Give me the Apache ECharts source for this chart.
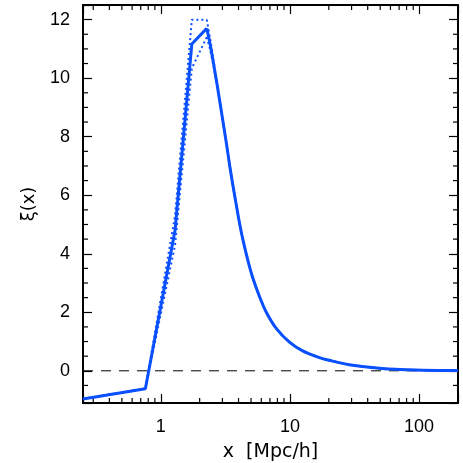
<!DOCTYPE html>
<html>
<head>
<meta charset="utf-8">
<script src="https://cdn.jsdelivr.net/npm/echarts@6/dist/echarts.min.js"></script>
<style>
  html, body { margin: 0; padding: 0; background: #fff; }
  #chart { width: 463px; height: 463px; }
</style>
</head>
<body>
<div id="chart"></div>
<script>
  // xi(x)
  const xVals = [0.25, 0.76, 1.29, 1.74, 2.27, 2.40, 2.55, 2.71, 2.87, 3.04, 3.23, 3.42, 3.63, 3.86, 4.09, 4.34, 4.74, 5.17, 5.83, 6.56, 7.83, 9.91, 12.55, 16.9, 20.1, 28.7, 51.5, 93.5, 200]
  const xiVals = [-0.96, -0.61, 4.8, 11.17, 11.7, 11.2, 10.55, 9.86, 9.18, 8.48, 7.74, 7.0, 6.3, 5.62, 5.0, 4.45, 3.75, 3.16, 2.52, 2.0, 1.45, 0.98, 0.68, 0.45, 0.36, 0.21, 0.08, 0.03, 0.01]
  // dotted bounds
  const xiUpper = [-0.96, -0.61, 5.3, 12.0, 12.0, 11.4, 10.65, 9.91, 9.21, 8.5, 7.75, 7.01, 6.3, 5.62, 5.0, 4.45, 3.75, 3.16, 2.52, 2.0, 1.45, 0.98, 0.68, 0.45, 0.36, 0.21, 0.08, 0.03, 0.01]
  const xiLower = [-0.96, -0.61, 4.3, 10.34, 11.4, 11.0, 10.45, 9.81, 9.15, 8.46, 7.73, 6.99, 6.3, 5.62, 5.0, 4.45, 3.75, 3.16, 2.52, 2.0, 1.45, 0.98, 0.68, 0.45, 0.36, 0.21, 0.08, 0.03, 0.01]
  const peakIdx = 4
  const xLabels = [1, 10, 100]
  const xMinor = [0.3, 0.4, 0.5, 0.6, 0.7, 0.8, 0.9, 2, 3, 4, 5, 6, 7, 8, 9, 20, 30, 40, 50, 60, 70, 80, 90]
  const yMinor = [-0.5, 0.5, 1, 1.5, 2.5, 3, 3.5, 4.5, 5, 5.5, 6.5, 7, 7.5, 8.5, 9, 9.5, 10.5, 11, 11.5]

  const blue = '#0a50ff'
  const font = 'Liberation Sans'
  const myChart = echarts.init(document.getElementById('chart'), null, { renderer: 'canvas' })

  const pairs = (ys) => xVals.map((x, i) => [x, ys[i]])

  // rising part straight, falling tail smoothed
  const curve = (ys, lineStyle) => {
    const all = pairs(ys)
    return [
      { type: 'line', data: all.slice(0, peakIdx + 1), symbol: 'none', lineStyle: lineStyle },
      { type: 'line', data: all.slice(peakIdx), symbol: 'none', smooth: 0.3, lineStyle: lineStyle }
    ]
  }

  // minor ticks, drawn inward on both opposite sides of the box
  const tickSeries = (vals, isX) => ({
    type: 'custom',
    silent: true,
    clip: false,
    data: vals.map(v => isX ? [v, 0] : [1, v]),
    renderItem: function (params, api) {
      const cs = params.coordSys
      const p = api.coord([api.value(0), api.value(1)])
      const len = 5
      const st = { stroke: '#000', lineWidth: 1.2 }
      let lines
      if (isX) {
        lines = [
          { x1: p[0], y1: cs.y + cs.height, x2: p[0], y2: cs.y + cs.height - len },
          { x1: p[0], y1: cs.y, x2: p[0], y2: cs.y + len }
        ]
      } else {
        lines = [
          { x1: cs.x, y1: p[1], x2: cs.x + len, y2: p[1] },
          { x1: cs.x + cs.width, y1: p[1], x2: cs.x + cs.width - len, y2: p[1] }
        ]
      }
      return {
        type: 'group',
        children: lines.map(s => ({ type: 'line', shape: s, style: st }))
      }
    }
  })

  const axisLine = () => ({ show: true, onZero: false, lineStyle: { color: '#000', width: 2 } })
  const axisTick = () => ({ show: true, inside: true, length: 9, lineStyle: { color: '#000', width: 1.2 } })

  const option = {
    animation: false,
    backgroundColor: '#fff',
    grid: { left: 83, right: 5, top: 5, bottom: 60, containLabel: false, outerBoundsMode: 'none' },
    xAxis: [{
      type: 'log',
      logBase: 10,
      min: 0.25,
      max: 200,
      position: 'bottom',
      name: 'x  [Mpc/h]',
      nameLocation: 'middle',
      nameGap: 40,
      nameTextStyle: { color: '#000', fontSize: 19, fontFamily: 'DejaVu Sans' },
      axisLine: axisLine(),
      axisTick: axisTick(),
      splitLine: { show: false },
      axisLabel: {
        color: '#000',
        fontSize: 18,
        fontFamily: font,
        margin: 15,
        formatter: v => xLabels.some(l => Math.abs(l - v) / l < 1e-6) ? String(Math.round(v)) : ''
      }
    }, {
      type: 'log',
      logBase: 10,
      min: 0.25,
      max: 200,
      position: 'top',
      axisLine: axisLine(),
      axisTick: axisTick(),
      splitLine: { show: false },
      axisLabel: { show: false }
    }],
    yAxis: [{
      type: 'value',
      min: -1.1,
      max: 12.5,
      splitNumber: 7,
      position: 'left',
      name: 'ξ(x)',
      nameLocation: 'middle',
      nameRotate: 90,
      nameGap: 45,
      nameTextStyle: { color: '#000', fontSize: 18, fontFamily: 'DejaVu Sans' },
      axisLine: axisLine(),
      axisTick: axisTick(),
      splitLine: { show: false },
      axisLabel: {
        color: '#000',
        fontSize: 18,
        fontFamily: font,
        margin: 13,
        formatter: v => (Math.abs(v - Math.round(v)) < 1e-6 && Math.round(v) % 2 === 0) ? String(Math.round(v)) : ''
      }
    }, {
      type: 'value',
      min: -1.1,
      max: 12.5,
      splitNumber: 7,
      position: 'right',
      axisLine: axisLine(),
      axisTick: axisTick(),
      splitLine: { show: false },
      axisLabel: { show: false }
    }],
    series: [
      {
        name: 'zero',
        type: 'line',
        data: [[0.25, 0], [200, 0]],
        symbol: 'none',
        silent: true,
        lineStyle: { color: '#000', width: 1, type: [10, 8] }
      },
      ...curve(xiVals, { color: blue, width: 3 }),
      ...curve(xiUpper, { color: blue, width: 2, type: [2, 3] }),
      ...curve(xiLower, { color: blue, width: 2, type: [2, 3] }),
      tickSeries(xMinor, true),
      tickSeries(yMinor, false)
    ]
  }
  myChart.setOption(option)
</script>
</body>
</html>
